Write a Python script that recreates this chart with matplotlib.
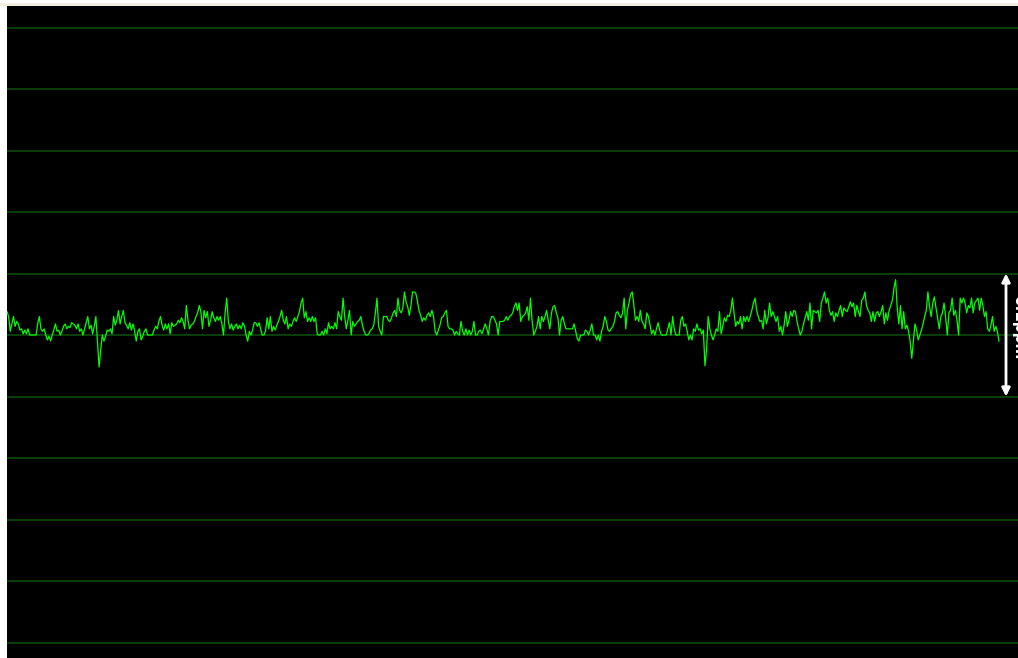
import numpy as np
import matplotlib
matplotlib.use('Agg')
import matplotlib.pyplot as plt
from matplotlib.patches import Rectangle

# trace values in ppb relative to the centre line left to right
trace_ppb = [
    19, 15, 3, 9, 15, 7, 11, 9, 4, 5, 1, 4, 1, 5, 0, 0, 0, 0, 0, 9, 15, 5, 3, 5, 0, -4, -1, -5, 0, 4,
    9, 3, 4, 0, 3, 7, 9, 5, 7, 6, 10, 9, 8, 5, 9, 3, 5, 0, 5, 10, 15, 5, 8, 1, 7, 15, -5, -26, -12, 0,
    -5, -1, 4, 3, 5, 1, 15, 8, 12, 20, 9, 15, 20, 10, 8, 5, 10, 4, 9, 3, -5, 3, 5, -4, -1, 3, 5, 0, 0, 0,
    0, 4, 7, 5, 11, 15, 8, 4, 9, 5, 9, 1, 10, 7,
    8, 9, 12, 10, 14, 11, 5, 24, 12, 5, 8, 9, 11, 15, 18, 24, 19, 5, 20, 14, 19, 7, 12, 19, 14, 11, 15, 12, 15, 9,
    0, 18, 30, 11, 5, 9, 4, 7, 9, 5, 8, 5, 10, 7, 0, -5, 3, 0, 4, 10, 10, 7, 10, 5, 0, 0, 3, 14, 5, 15,
    3, 7, 4, 8, 11, 15, 20, 12, 9, 15, 5, 9, 7, 11, 14, 11, 15, 19, 26, 30, 14, 19, 11, 14, 11, 15, 11, 14, 1, 0,
    0, 3, 0, 5, 1, 10, 5, 7, 5, 10, 5, 19, 15,
    12, 30, 15, 5, 12, 20, 0, 11, 7, 9, 11, 12, 15, 8, 3, 0, 0, 1, 4, 5, 8, 18, 30, 7, 3, 0, 15, 15, 15, 12,
    11, 14, 18, 20, 15, 30, 20, 18, 22, 35, 27, 23, 16, 24, 35, 35, 34, 28, 20, 16, 11, 14, 12, 16, 18, 15, 20, 15, 3, 0,
    4, 8, 14, 15, 18, 20, 7, 5, 5, 4, 0, 3, 1, 0, 11, 3, 0, 5, 0, 4, 0, 3, 11, 0, 0, 3, 4, 1, 5, 9,
    5, 0, 11, 15, 15, 12, 9, 0, 11, 11,
    11, 12, 15, 12, 15, 16, 18, 23, 26, 20, 26, 11, 15, 16, 18, 23, 12, 30, 12, 0, 3, 7, 15, 5, 15, 11, 15, 20, 12, 5,
    18, 23, 24, 18, 14, 0, 12, 15, 9, 5, 5, 5, 5, 5, 9, 3, -3, -5, 0, 0, 0, 4, 3, 0, 4, 9, 0, 0, -4, 0,
    -5, 3, 7, 15, 11, 4, 3, 5, 7, 11, 18, 19, 16, 14, 18, 30, 5, 20, 26, 33, 35, 24, 12, 15, 11, 20, 11, 9, 5, 18,
    15, 8, 1, 4, 0, 5, 10, 4, 0, 0, 0,
    0, 5, 10, 0, 15, 5, 0, 0, 0, 12, 15, 7, 9, 3, -4, 0, -4, 5, 3, 9, 4, 5, 1, 4, -25, -12, 15, 5, 0, -4,
    0, 5, 3, 19, 1, 7, 14, 11, 16, 15, 20, 30, 18, 7, 11, 9, 15, 5, 15, 11, 15, 11, 15, 20, 26, 30, 20, 15, 11, 12,
    5, 20, 9, 14, 26, 15, 19, 15, 11, 15, 3, 7, 0, 8, 19, 7, 12, 19, 15, 20, 19, 11, 5, 0, 3, 9, 14, 19, 12, 26,
    5, 20, 19, 18, 20, 11, 26, 30, 35, 26, 30, 20,
    16, 19, 11, 18, 15, 20, 24, 15, 22, 20, 19, 23, 27, 23, 26, 15, 24, 19, 15, 28, 30, 35, 24, 20, 18, 11, 19, 11, 18, 19,
    15, 19, 24, 9, 18, 12, 20, 24, 28, 38, 45, 22, 9, 24, 5, 19, 5, 8, 3, -5, -19, -5, 9, 4, -4, 0, 4, 9, 15, 20,
    35, 23, 15, 26, 31, 22, 14, 5, 15, 18, 26, 14, 0, 18, 20, 30, 16, 20, 12, 0, 30, 26, 30, 26, 18, 24, 22, 30, 18, 26,
    28, 30, 20, 30, 24, 15, 19, 5, 3, 8, 15, 3, 7, 3, -5,
]

grid_levels = np.arange(-250, 251, 50)
span_ppb = (-50, 50)
span_label = '0.1ppm'

W, H = 1018, 658
fig = plt.figure(figsize=(W / 100, H / 100), dpi=100)
fig.patch.set_facecolor('white')
fig.add_artist(Rectangle((0, (H - 6) / H), 1, 3 / H, transform=fig.transFigure,
                         facecolor='#f1eee0', edgecolor='none'))

ax = fig.add_axes([7 / W, 0, (W - 7) / W, (H - 6) / H])
ax.set_facecolor('black')

y = np.array(trace_ppb)
x = np.arange(len(y))
xmax = (len(y) - 1) * 1011 / 992

for g in grid_levels:
    ax.axhline(g, color='#0b4a0b', lw=1.2, zorder=1)

ax.plot(x, y, color='#00ff00', lw=0.9, zorder=3)

# scale arrow on the right
ax_x = (1006 - 7) / 1011 * xmax
ax.annotate('', xy=(ax_x, span_ppb[0]), xytext=(ax_x, span_ppb[1]),
            arrowprops=dict(arrowstyle='<|-|>', color='white', lw=2,
                            mutation_scale=12, shrinkA=0, shrinkB=0), zorder=4)
# label sits on the right edge and is cut off there, as on the screen
fig.text(1011.5 / W, 1 - 327 / H, span_label, color='white', fontsize=11,
         fontweight='bold', rotation=-90, ha='left', va='center')

ax.set_xlim(0, xmax)
ax.set_ylim((335 - 658) / 1.23, (335 - 6) / 1.23)
ax.set_xticks([])
ax.set_yticks([])
for s in ax.spines.values():
    s.set_visible(False)

fig.savefig('out.png', dpi=100, facecolor=fig.get_facecolor())
